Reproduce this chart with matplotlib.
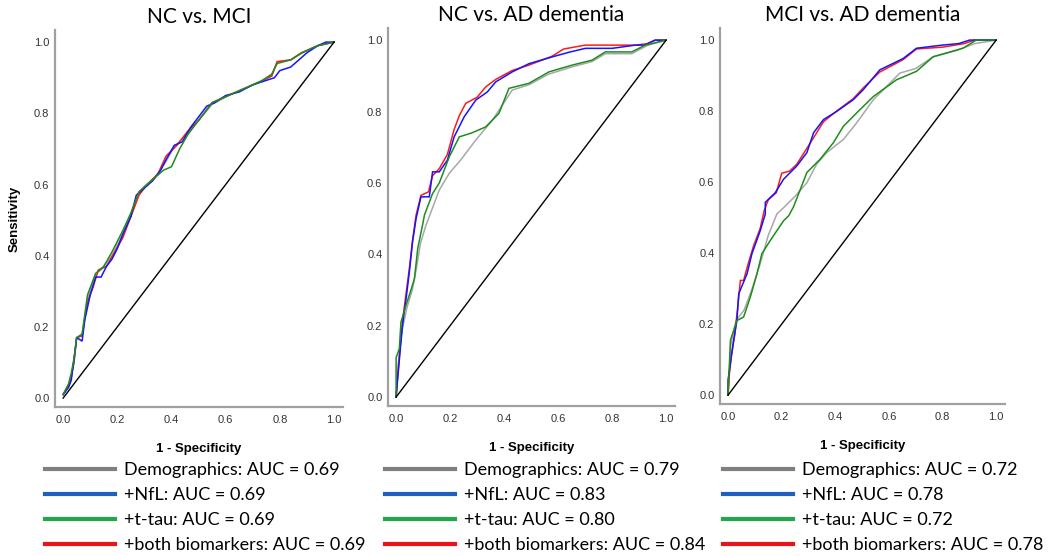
import matplotlib
matplotlib.use("Agg")
import matplotlib.pyplot as plt
from matplotlib.lines import Line2D

# panel titles and legend data
titles = ["NC vs. MCI", "NC vs. AD dementia", "MCI vs. AD dementia"]
models = ["Demographics", "+NfL", "+t-tau", "+both biomarkers"]
auc_values = [
    [0.69, 0.69, 0.69, 0.69],
    [0.79, 0.83, 0.80, 0.84],
    [0.72, 0.78, 0.72, 0.78],
]
tick_labels = ["0.0", "0.2", "0.4", "0.6", "0.8", "1.0"]
tick_values = [0.0, 0.2, 0.4, 0.6, 0.8, 1.0]

# reference (chance) line
chance_fpr = [0.0, 1.0]
chance_tpr = [0.0, 1.0]

# ---- NC vs. MCI ----
demo1_fpr = [0, 0.02, 0.03, 0.04, 0.05, 0.07, 0.09, 0.12, 0.14, 0.18, 0.22, 0.25, 0.28, 0.30, 0.34, 0.38, 0.41, 0.46, 0.50, 0.55, 0.61, 0.67, 0.73, 0.77, 0.79, 0.84, 0.88, 0.94, 1.0]
demo1_tpr = [0.01, 0.035, 0.06, 0.10, 0.17, 0.175, 0.28, 0.35, 0.36, 0.40, 0.46, 0.51, 0.575, 0.595, 0.62, 0.665, 0.705, 0.745, 0.78, 0.825, 0.85, 0.87, 0.89, 0.905, 0.945, 0.95, 0.968, 0.99, 1.0]
nfl1_fpr = [0, 0.02, 0.03, 0.04, 0.05, 0.07, 0.08, 0.10, 0.12, 0.14, 0.16, 0.18, 0.20, 0.22, 0.25, 0.27, 0.30, 0.33, 0.36, 0.38, 0.41, 0.44, 0.47, 0.50, 0.53, 0.56, 0.60, 0.65, 0.70, 0.74, 0.78, 0.80, 0.84, 0.87, 0.90, 0.94, 0.97, 1.0]
nfl1_tpr = [0.01, 0.03, 0.05, 0.11, 0.17, 0.16, 0.22, 0.29, 0.34, 0.34, 0.37, 0.39, 0.42, 0.46, 0.51, 0.57, 0.59, 0.61, 0.64, 0.67, 0.71, 0.72, 0.76, 0.79, 0.82, 0.83, 0.85, 0.86, 0.88, 0.89, 0.90, 0.92, 0.93, 0.95, 0.97, 0.99, 1.0, 1.0]
tau1_fpr = [0, 0.02, 0.03, 0.04, 0.05, 0.07, 0.09, 0.12, 0.15, 0.18, 0.22, 0.25, 0.28, 0.31, 0.34, 0.37, 0.40, 0.43, 0.46, 0.50, 0.55, 0.61, 0.67, 0.73, 0.77, 0.79, 0.84, 0.88, 0.94, 1.0]
tau1_tpr = [0.01, 0.04, 0.07, 0.11, 0.17, 0.18, 0.29, 0.35, 0.37, 0.41, 0.47, 0.52, 0.58, 0.60, 0.62, 0.64, 0.65, 0.70, 0.74, 0.78, 0.83, 0.85, 0.87, 0.89, 0.91, 0.94, 0.95, 0.97, 0.99, 1.0]
both1_fpr = [0, 0.02, 0.03, 0.04, 0.05, 0.07, 0.09, 0.11, 0.13, 0.16, 0.19, 0.22, 0.25, 0.28, 0.31, 0.35, 0.38, 0.42, 0.46, 0.50, 0.55, 0.61, 0.67, 0.73, 0.77, 0.79, 0.84, 0.88, 0.94, 1.0]
both1_tpr = [0.01, 0.035, 0.06, 0.10, 0.17, 0.175, 0.27, 0.31, 0.36, 0.37, 0.41, 0.45, 0.51, 0.57, 0.60, 0.63, 0.68, 0.71, 0.75, 0.78, 0.83, 0.85, 0.87, 0.89, 0.905, 0.945, 0.95, 0.97, 0.99, 1.0]

# ---- NC vs. AD dementia ----
demo2_fpr = [0, 0.006, 0.02, 0.04, 0.06, 0.075, 0.09, 0.11, 0.135, 0.16, 0.197, 0.24, 0.295, 0.357, 0.43, 0.492, 0.566, 0.652, 0.726, 0.775, 0.873, 0.93, 1.0]
demo2_tpr = [0, 0.08, 0.18, 0.25, 0.30, 0.36, 0.43, 0.48, 0.53, 0.58, 0.627, 0.665, 0.72, 0.776, 0.86, 0.875, 0.905, 0.925, 0.94, 0.962, 0.962, 0.985, 1.0]
nfl2_fpr = [0, 0.006, 0.015, 0.025, 0.037, 0.049, 0.061, 0.074, 0.092, 0.123, 0.135, 0.16, 0.19, 0.215, 0.252, 0.295, 0.338, 0.369, 0.43, 0.492, 0.578, 0.64, 0.701, 0.80, 0.886, 0.92, 0.959, 1.0]
nfl2_tpr = [0, 0.053, 0.13, 0.21, 0.276, 0.35, 0.435, 0.50, 0.561, 0.561, 0.631, 0.631, 0.664, 0.729, 0.785, 0.832, 0.855, 0.883, 0.911, 0.934, 0.953, 0.966, 0.977, 0.977, 0.986, 0.986, 1.0, 1.0]
tau2_fpr = [0, 0.0, 0.012, 0.018, 0.037, 0.055, 0.068, 0.08, 0.098, 0.105, 0.135, 0.16, 0.197, 0.234, 0.28, 0.332, 0.381, 0.418, 0.492, 0.566, 0.652, 0.726, 0.775, 0.873, 0.923, 1.0]
tau2_tpr = [0, 0.11, 0.136, 0.21, 0.258, 0.30, 0.332, 0.416, 0.482, 0.51, 0.57, 0.60, 0.673, 0.729, 0.74, 0.757, 0.795, 0.865, 0.879, 0.911, 0.93, 0.944, 0.967, 0.967, 0.986, 1.0]
both2_fpr = [0, 0.006, 0.015, 0.025, 0.037, 0.049, 0.061, 0.074, 0.092, 0.12, 0.135, 0.16, 0.19, 0.215, 0.235, 0.258, 0.30, 0.332, 0.369, 0.43, 0.492, 0.578, 0.62, 0.70, 0.886, 0.93, 0.96, 1.0]
both2_tpr = [0, 0.06, 0.14, 0.22, 0.29, 0.36, 0.44, 0.51, 0.565, 0.575, 0.62, 0.64, 0.68, 0.75, 0.79, 0.823, 0.84, 0.869, 0.89, 0.915, 0.93, 0.955, 0.975, 0.986, 0.986, 0.99, 1.0, 1.0]

# ---- MCI vs. AD dementia ----
demo3_fpr = [0, 0.01, 0.03, 0.06, 0.09, 0.12, 0.15, 0.182, 0.21, 0.25, 0.294, 0.33, 0.368, 0.43, 0.48, 0.542, 0.641, 0.70, 0.765, 0.85, 0.92, 1.0]
demo3_tpr = [0, 0.14, 0.21, 0.24, 0.30, 0.37, 0.45, 0.51, 0.53, 0.56, 0.598, 0.65, 0.683, 0.72, 0.767, 0.832, 0.907, 0.92, 0.953, 0.97, 0.99, 1.0]
nfl3_fpr = [0, 0.0, 0.009, 0.021, 0.033, 0.04, 0.071, 0.089, 0.12, 0.139, 0.139, 0.176, 0.207, 0.256, 0.294, 0.319, 0.356, 0.405, 0.467, 0.504, 0.566, 0.653, 0.703, 0.802, 0.86, 0.901, 1.0]
nfl3_tpr = [0, 0.043, 0.09, 0.155, 0.21, 0.286, 0.342, 0.398, 0.463, 0.51, 0.543, 0.57, 0.608, 0.645, 0.683, 0.739, 0.776, 0.799, 0.832, 0.86, 0.916, 0.948, 0.977, 0.986, 0.99, 1.0, 1.0]
tau3_fpr = [0, 0.009, 0.033, 0.058, 0.083, 0.108, 0.126, 0.157, 0.207, 0.226, 0.244, 0.294, 0.343, 0.393, 0.43, 0.48, 0.542, 0.628, 0.703, 0.765, 0.876, 0.926, 1.0]
tau3_tpr = [0, 0.155, 0.21, 0.22, 0.276, 0.342, 0.398, 0.435, 0.491, 0.505, 0.53, 0.627, 0.664, 0.711, 0.757, 0.795, 0.841, 0.888, 0.912, 0.953, 0.977, 1.0, 1.0]
both3_fpr = [0, 0.005, 0.012, 0.025, 0.035, 0.046, 0.058, 0.075, 0.095, 0.12, 0.135, 0.15, 0.18, 0.20, 0.23, 0.256, 0.294, 0.319, 0.356, 0.405, 0.467, 0.504, 0.566, 0.653, 0.703, 0.80, 0.88, 0.92, 1.0]
both3_tpr = [0, 0.06, 0.11, 0.17, 0.24, 0.323, 0.323, 0.37, 0.42, 0.47, 0.52, 0.55, 0.57, 0.625, 0.631, 0.65, 0.695, 0.725, 0.77, 0.80, 0.835, 0.865, 0.91, 0.945, 0.975, 0.98, 0.99, 1.0, 1.0]

panels = [
    [(demo1_fpr, demo1_tpr), (nfl1_fpr, nfl1_tpr), (tau1_fpr, tau1_tpr), (both1_fpr, both1_tpr)],
    [(demo2_fpr, demo2_tpr), (nfl2_fpr, nfl2_tpr), (tau2_fpr, tau2_tpr), (both2_fpr, both2_tpr)],
    [(demo3_fpr, demo3_tpr), (nfl3_fpr, nfl3_tpr), (tau3_fpr, tau3_tpr), (both3_fpr, both3_tpr)],
]

curve_colors = ["#a8a8a8", "#1414ff", "#1e8c1e", "#ff1a1a"]
legend_colors = ["#7f7f7f", "#1f5fbf", "#22a84a", "#e8141c"]
draw_order = [0, 3, 1, 2]  # gray, red, blue, green on top

axes_rects = [
    (55 / 1050, 1 - 407 / 556, 288 / 1050, 377 / 556),
    (388 / 1050, 1 - 406 / 556, 287 / 1050, 378 / 556),
    (720 / 1050, 1 - 404 / 556, 285 / 1050, 376 / 556),
]
legend_anchor_x = [45 / 1050, 385 / 1050, 723 / 1050]

fig = plt.figure(figsize=(10.5, 5.56), dpi=100)
title_font = "Lato"
axis_font = "Liberation Sans"

for i, rect in enumerate(axes_rects):
    ax = fig.add_axes(rect)
    for j in draw_order:
        fpr, tpr = panels[i][j]
        ax.plot(fpr, tpr, color=curve_colors[j], lw=1.1, solid_joinstyle="miter")
    ax.plot(chance_fpr, chance_tpr, color="black", lw=1.0)

    ax.set_xlim(-0.03, 1.033)
    ax.set_ylim(-0.025, 1.034)
    for s in ["top", "right"]:
        ax.spines[s].set_visible(False)
    for s in ["left", "bottom"]:
        ax.spines[s].set_color("#a0a0a0")
        ax.spines[s].set_linewidth(1.6)
    ax.set_xticks(tick_values)
    ax.set_yticks(tick_values)
    ax.set_xticklabels(tick_labels, fontfamily=axis_font, fontsize=8, color="#333333")
    ax.set_yticklabels(tick_labels, fontfamily=axis_font, fontsize=8, color="#333333")
    ax.tick_params(length=0, pad=4)
    ax.tick_params(axis="x", pad=6)

    ax.set_xlabel("1 - Specificity", fontfamily=axis_font, fontsize=9.5,
                  fontweight="bold", labelpad=13)
    if i == 0:
        ax.set_ylabel("Sensitivity", fontfamily=axis_font, fontsize=9.5,
                      fontweight="bold", labelpad=10)
    ax.set_title(titles[i], fontfamily=title_font, fontsize=15, pad=5)

    handles = [Line2D([], [], color=c, lw=3) for c in legend_colors]
    labels = [f"{m}: AUC = {a:.2f}" for m, a in zip(models, auc_values[i])]
    ax.legend(handles, labels, loc="upper left",
              bbox_to_anchor=(legend_anchor_x[i], 1 - 462 / 556),
              bbox_transform=fig.transFigure, frameon=False,
              prop={"family": title_font, "size": 13},
              handlelength=3.9, handletextpad=0.45, labelspacing=0.5,
              borderpad=0, borderaxespad=0)

fig.savefig("out.png", dpi=100)
